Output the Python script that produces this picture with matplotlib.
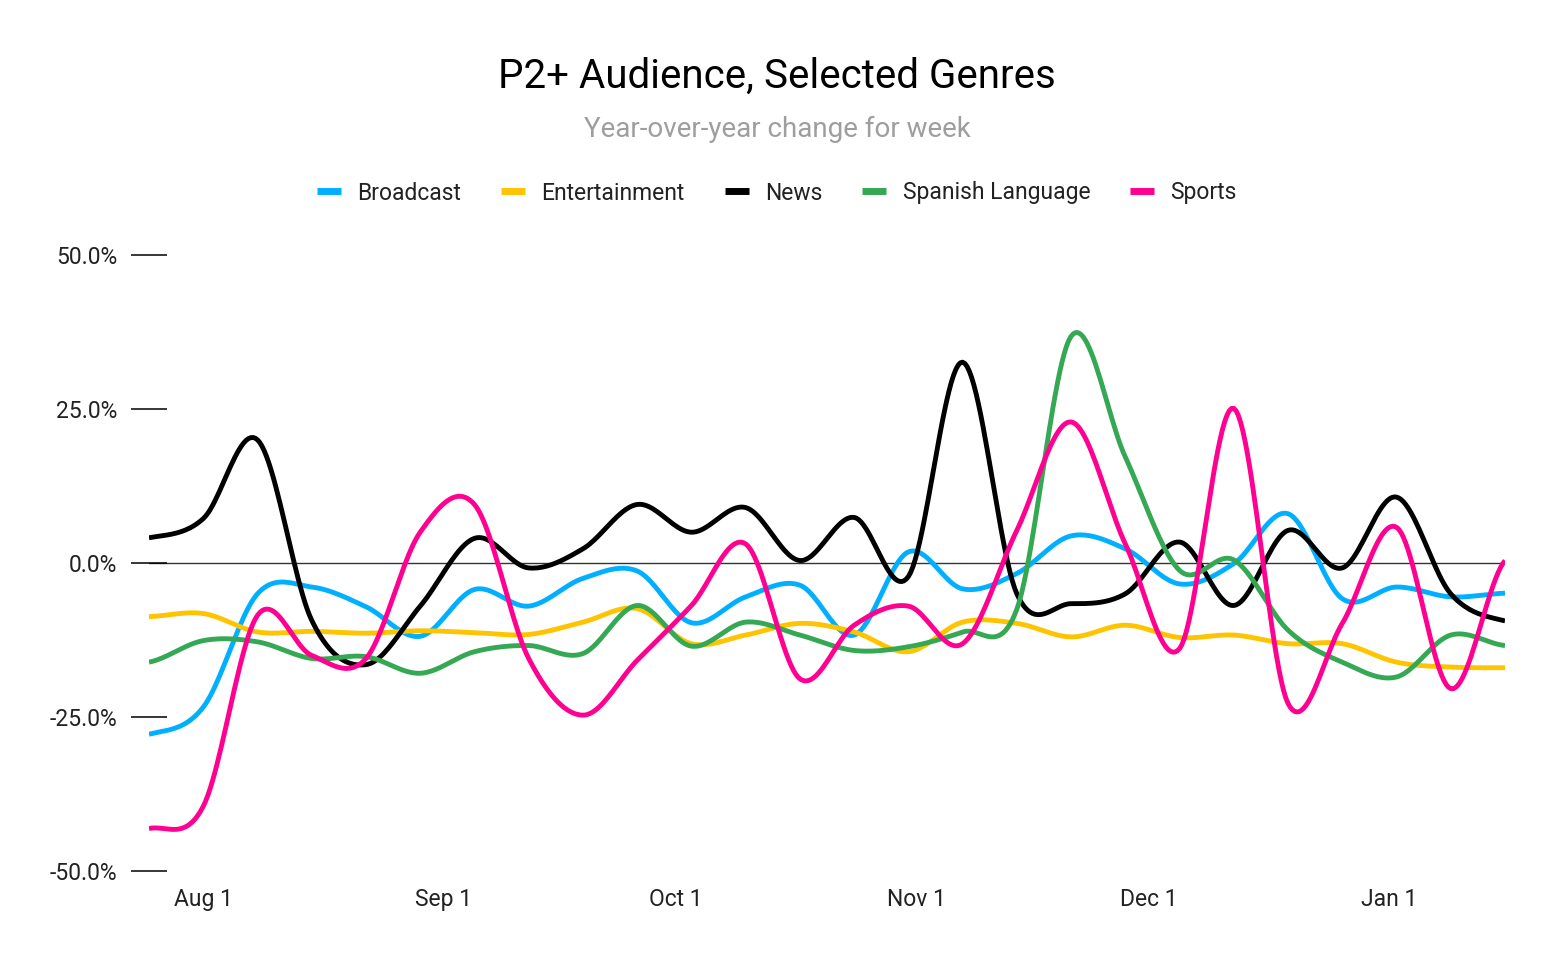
import numpy as np
import pandas as pd
import matplotlib
matplotlib.use("Agg")
import matplotlib.pyplot as plt
import matplotlib.dates as mdates
from matplotlib.lines import Line2D
from matplotlib.ticker import FuncFormatter, FixedLocator

# ---------------- data ----------------
weeks = pd.date_range("2022-07-25", periods=26, freq="7D")

broadcast = [-27.8, -23.4, -5.0, -3.9, -7.1, -11.9, -4.3, -7.0, -2.5, -1.3,
             -9.7, -5.5, -3.6, -11.7, 1.8, -4.2, -1.7, 4.4, 2.3, -3.4,
             -0.1, 8.0, -5.8, -3.9, -5.5, -4.9]
entertainment = [-8.7, -8.2, -11.2, -11.1, -11.4, -11.0, -11.3, -11.6, -9.6, -7.4,
                 -13.1, -11.7, -9.8, -11.2, -14.4, -9.6, -9.8, -12.0, -10.1, -12.1,
                 -11.7, -13.1, -13.1, -16.1, -16.9, -17.0]
news = [4.1, 7.2, 20.0, -9.3, -16.5, -7.0, 4.0, -0.8, 2.3, 9.5,
        5.0, 9.0, 0.4, 7.4, -2.2, 32.6, -5.0, -6.6, -5.0, 3.4,
        -6.9, 5.3, -0.8, 10.7, -5.0, -9.4]
spanish = [-16.1, -12.6, -12.8, -15.5, -15.2, -17.9, -14.4, -13.4, -14.7, -6.9,
           -13.5, -9.6, -11.7, -14.2, -13.6, -11.2, -7.5, 36.8, 17.2, -1.2,
           0.5, -10.9, -16.1, -18.5, -11.7, -13.4]
sports = [-43.1, -39.5, -8.5, -15.0, -15.5, 5.0, 9.5, -15.5, -24.7, -15.8,
          -6.9, 3.1, -18.8, -10.1, -7.0, -13.1, 5.3, 22.9, 3.1, -13.9,
          25.1, -22.8, -9.8, 5.8, -20.4, 0.4]

series_names = ["Broadcast", "Entertainment", "News", "Spanish Language", "Sports"]
series_values = [broadcast, entertainment, news, spanish, sports]
series_colors = ["#00B0FF", "#FFC400", "#000000", "#34A853", "#FF0090"]

month_ticks = pd.to_datetime(["2022-08-01", "2022-09-01", "2022-10-01",
                              "2022-11-01", "2022-12-01", "2023-01-01"])
month_labels = ["Aug 1", "Sep 1", "Oct 1", "Nov 1", "Dec 1", "Jan 1"]
y_ticks = [-50, -25, 0, 25, 50]


def smooth(x, y, n=24):
    """Catmull-Rom style cubic curve through the given points."""
    x = np.asarray(x, float)
    y = np.asarray(y, float)
    m = np.empty_like(y)
    m[1:-1] = (y[2:] - y[:-2]) / 2.0
    m[0] = (y[1] - y[0]) / 2.0
    m[-1] = (y[-1] - y[-2]) / 2.0
    xs, ys = [], []
    t = np.linspace(0, 1, n, endpoint=False)
    h00 = 2 * t**3 - 3 * t**2 + 1
    h10 = t**3 - 2 * t**2 + t
    h01 = -2 * t**3 + 3 * t**2
    h11 = t**3 - t**2
    for i in range(len(x) - 1):
        xs.append(x[i] + (x[i + 1] - x[i]) * t)
        ys.append(h00 * y[i] + h10 * m[i] + h01 * y[i + 1] + h11 * m[i + 1])
    xs.append([x[-1]])
    ys.append([y[-1]])
    return np.concatenate(xs), np.concatenate(ys)


plt.rcParams["font.family"] = ["Roboto", "DejaVu Sans"]

W, H = 1554, 960
fig = plt.figure(figsize=(W / 100, H / 100), dpi=100)
ax = fig.add_axes([149 / W, 89 / H, (1505 - 149) / W, 616 / H])

xnum = mdates.date2num(weeks)
for name, vals, col in zip(series_names, series_values, series_colors):
    sx, sy = smooth(xnum, vals)
    ax.plot(sx, sy, color=col, lw=3.5, solid_capstyle="butt", solid_joinstyle="round")

ax.axhline(0, color="#333333", lw=1.0, zorder=1)

ax.set_xlim(xnum[0], xnum[-1])
ax.set_ylim(-50, 50)
for s in ax.spines.values():
    s.set_visible(False)

ax.yaxis.set_major_locator(FixedLocator(y_ticks))
ax.yaxis.set_major_formatter(FuncFormatter(lambda v, p: f"{v:.1f}%"))
ax.tick_params(axis="y", direction="inout", length=25.9, width=1.1, color="black",
               pad=10, labelsize=16.5, labelcolor="#222222")

ax.set_xticks(mdates.date2num(month_ticks))
ax.set_xticklabels(month_labels)
ax.tick_params(axis="x", length=0, pad=12, labelsize=16.5, labelcolor="#222222")

fig.text(0.5, 1 - 88 / H, "P2+ Audience, Selected Genres", ha="center", va="baseline",
         fontsize=29, color="#000000")
fig.text(0.5, 1 - 137 / H, "Year-over-year change for week", ha="center", va="baseline",
         fontsize=20, color="#9E9E9E")

handles = [Line2D([0], [0], color=c, lw=5, solid_capstyle="butt") for c in series_colors]
fig.legend(handles, series_names, loc="center", bbox_to_anchor=(0.5, 1 - 193 / H),
           ncol=5, frameon=False, fontsize=16.5, handlelength=1.05, handletextpad=0.7,
           columnspacing=1.75, labelcolor="#222222")

fig.savefig("out.png", dpi=100)
